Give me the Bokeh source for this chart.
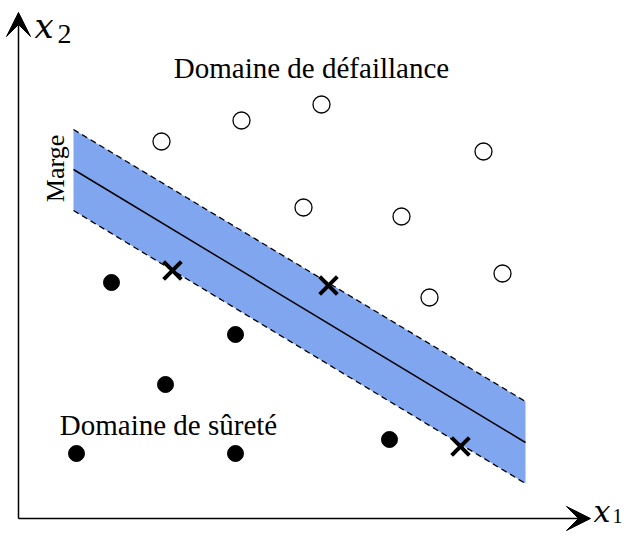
import math
from bokeh.plotting import figure
from bokeh.models import Arrow, VeeHead, Label
from bokeh.embed import file_html
from bokeh.resources import INLINE

# --- data (units: arbitrary, origin at axes corner) ---
fail_x = [1.43, 2.23, 3.03, 4.65, 2.85, 3.83, 4.84, 4.11]
fail_y = [3.77, 3.98, 4.14, 3.67, 3.11, 3.02, 2.45, 2.21]
safe_x = [0.93, 2.17, 1.47, 0.58, 2.17, 3.71]
safe_y = [2.36, 1.84, 1.34, 0.65, 0.65, 0.79]
sv_x = [1.54, 3.10, 4.42]
sv_y = [2.48, 2.33, 0.72]
band_x = [0.55, 5.07]
center_y = [3.49, 0.76]
upper_y = [3.89, 1.17]
lower_y = [3.08, 0.35]
axis_end_x = 5.72
axis_end_y = 5.06

p = figure(width=640, height=536, x_range=(-0.18, 6.22), y_range=(-0.18, 5.18),
           output_backend="svg", toolbar_location=None, min_border=0)
p.axis.visible = False
p.grid.visible = False
p.outline_line_color = None
p.background_fill_color = "white"

p.varea(x=band_x, y1=lower_y, y2=upper_y, fill_color="#80A6F0", fill_alpha=1.0)
p.line(band_x, center_y, line_color="black", line_width=1.5)
p.line(band_x, upper_y, line_color="black", line_width=1.3, line_dash="6 4")
p.line(band_x, lower_y, line_color="black", line_width=1.3, line_dash="6 4")

p.scatter(fail_x, fail_y, marker="circle", size=17, fill_color="white",
          line_color="black", line_width=1.3)
p.scatter(safe_x, safe_y, marker="circle", size=16, fill_color="black",
          line_color="black")
p.scatter(sv_x, sv_y, marker="x", size=25, line_color="black", line_width=4)

p.add_layout(Arrow(x_start=0, y_start=0, x_end=axis_end_x, y_end=0,
                   line_width=1.5, line_color="black",
                   end=VeeHead(size=24, fill_color="black", line_color="black")))
p.add_layout(Arrow(x_start=0, y_start=0, x_end=0, y_end=axis_end_y,
                   line_width=1.5, line_color="black",
                   end=VeeHead(size=24, fill_color="black", line_color="black")))

serif = "Liberation Serif"
mserif = "DejaVu Serif"
p.add_layout(Label(x=5.75, y=0.07, text="x", text_font=mserif, text_font_style="italic",
                   text_font_size="30px", text_baseline="alphabetic", text_color="black"))
p.add_layout(Label(x=5.94, y=0.03, text="1", text_font=serif,
                   text_font_size="20px", text_baseline="alphabetic", text_color="black"))
p.add_layout(Label(x=0.16, y=4.93, text="x", text_font=mserif, text_font_style="italic",
                   text_font_size="34px", text_baseline="alphabetic", text_color="black"))
p.add_layout(Label(x=0.39, y=4.85, text="2", text_font=serif,
                   text_font_size="28px", text_baseline="alphabetic", text_color="black"))

p.add_layout(Label(x=2.93, y=4.51, text="Domaine de défaillance", text_font=serif,
                   text_font_size="29px", text_align="center", text_baseline="middle",
                   text_color="black"))
p.add_layout(Label(x=1.50, y=0.94, text="Domaine de sûreté", text_font=serif,
                   text_font_size="29px", text_align="center", text_baseline="middle",
                   text_color="black"))
p.add_layout(Label(x=0.37, y=3.50, text="Marge", text_font=serif,
                   text_font_size="26px", text_align="center", text_baseline="middle",
                   angle=math.pi / 2, text_color="black"))

open("out.html", "w").write(file_html(p, INLINE))
